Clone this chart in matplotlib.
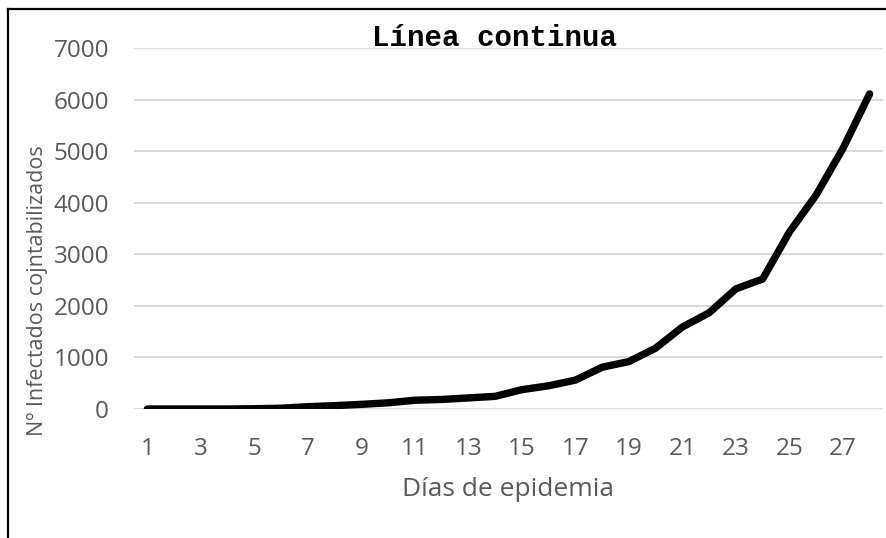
import matplotlib.pyplot as plt
from matplotlib.lines import Line2D

# Datos
dias = list(range(1, 29))
infectados = [0, 0, 0, 0, 5, 15, 45, 65, 90, 120, 170, 185, 215, 245,
              375, 450, 560, 810, 920, 1180, 1590, 1865, 2330, 2520,
              3430, 4150, 5050, 6110]
yticks = [0, 1000, 2000, 3000, 4000, 5000, 6000, 7000]
xticks = list(range(1, 28, 2))

gris = '#595959'
plt.rcParams['font.family'] = ['Open Sans', 'DejaVu Sans']

fig = plt.figure(figsize=(8.87, 5.38), dpi=100)
ax = fig.add_axes([134 / 887, 1 - 409 / 538, 749 / 887, 361 / 538])

ax.plot(dias, infectados, color='black', lw=5.3, solid_capstyle='round',
        solid_joinstyle='round', zorder=3)

ax.set_xlim(0.5, 28.5)
ax.set_ylim(0, 7000)
ax.set_yticks(yticks)
ax.set_xticks(xticks)
ax.tick_params(length=0, labelsize=17.5, labelcolor=gris)
ax.tick_params(axis='y', pad=18)
ax.tick_params(axis='x', pad=20)
ax.grid(axis='y', color='#d9d9d9', lw=1.4)
ax.set_axisbelow(True)
for s in ax.spines.values():
    s.set_visible(False)

ax.set_xlabel('Días de epidemia', fontsize=19, color=gris, labelpad=12)
fig.text(37 / 887, 1 - 291 / 538, 'Nº Infectados cojntabilizados', rotation=90,
         fontsize=15.5, color=gris, ha='center', va='center')

fig.text(495 / 887, 1 - 38 / 538, 'Línea continua', fontsize=21,
         family='Liberation Mono', weight='bold', color='black',
         ha='center', va='center')

# marco de la imagen (solo arriba e izquierda)
fig.add_artist(Line2D([8 / 887, 1], [1 - 9 / 538, 1 - 9 / 538],
                      transform=fig.transFigure, color='black', lw=1.6))
fig.add_artist(Line2D([8 / 887, 8 / 887], [1 - 9 / 538, 0],
                      transform=fig.transFigure, color='black', lw=1.6))

fig.savefig('out.png', dpi=100)
